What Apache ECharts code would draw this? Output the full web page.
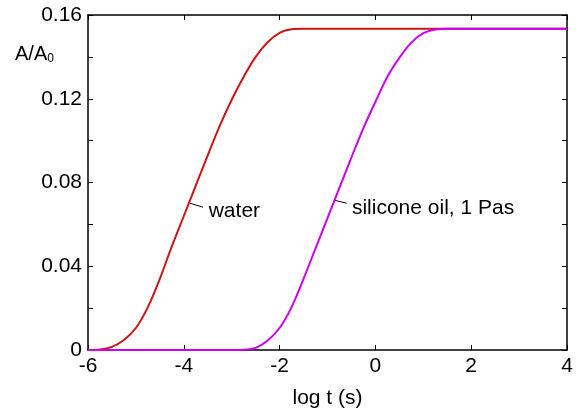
<!DOCTYPE html>
<html>
<head>
<meta charset="utf-8">
<script src="https://cdn.jsdelivr.net/npm/echarts@6/dist/echarts.min.js"></script>
<style>
  html, body { margin: 0; padding: 0; background: #fff; }
  #chart { width: 584px; height: 414px; }
</style>
</head>
<body>
<div id="chart"></div>
<script>
// values
var waterX = [-6, -5.75, -5.5, -5.25, -5, -4.75, -4.5, -4.25, -4, -3.75, -3.5, -3.25, -3, -2.75, -2.5, -2.25, -2, -1.75, -1.5, 4];
var waterY = [0, 0.0002, 0.0015, 0.0048, 0.0105, 0.0205, 0.034, 0.0495, 0.064, 0.0785, 0.093, 0.107, 0.1195, 0.1305, 0.14, 0.147, 0.1515, 0.1532, 0.1534, 0.1534];
var oilX = [-6, -3, -2.75, -2.5, -2.25, -2, -1.75, -1.5, -1.25, -1, -0.75, -0.5, -0.25, 0, 0.25, 0.5, 0.75, 1, 1.25, 1.5, 4];
var oilY = [0, 0, 0.0001, 0.001, 0.0045, 0.0105, 0.0205, 0.034, 0.0485, 0.063, 0.0775, 0.092, 0.106, 0.1185, 0.1305, 0.1395, 0.1468, 0.1513, 0.1531, 0.1534, 0.1534];
var xTicks = [-6, -4, -2, 0, 2, 4];
var yTicks = [0, 0.04, 0.08, 0.12, 0.16];

function pairs(xs, ys) {
  var out = [];
  for (var i = 0; i < xs.length; i++) out.push([xs[i], ys[i]]);
  return out;
}

var font = 'Liberation Sans, Arial, sans-serif';
var chart = echarts.init(document.getElementById('chart'));

var axisLine = { onZero: false, lineStyle: { color: '#000', width: 1.5 } };
var axisTick = { inside: true, length: 5, lineStyle: { color: '#000', width: 1 } };

var option = {
  backgroundColor: '#ffffff',
  animation: false,
  grid: { left: 88, top: 15, right: 17, bottom: 59 },
  xAxis: [{
    type: 'value', min: -6, max: 4, interval: 2,
    position: 'bottom',
    name: 'log t (s)', nameLocation: 'middle', nameGap: 38,
    nameTextStyle: { fontFamily: font, fontSize: 21, color: '#000' },
    axisLine: axisLine, axisTick: axisTick, splitLine: { show: false },
    axisLabel: {
      margin: 6, fontFamily: font, fontSize: 21, color: '#000',
      formatter: function (v) { return xTicks.indexOf(v) >= 0 ? String(v) : ''; }
    }
  }, {
    type: 'value', min: -6, max: 4, interval: 2,
    position: 'top',
    axisLine: axisLine, axisTick: axisTick, splitLine: { show: false },
    axisLabel: { show: false }
  }],
  yAxis: [{
    type: 'value', min: 0, max: 0.16, interval: 0.02,
    position: 'left',
    axisLine: axisLine, axisTick: axisTick, splitLine: { show: false },
    axisLabel: {
      margin: 6, fontFamily: font, fontSize: 21, color: '#000',
      formatter: function (v) {
        for (var i = 0; i < yTicks.length; i++) {
          if (Math.abs(yTicks[i] - v) < 1e-6) return v === 0 ? '0' : v.toFixed(2);
        }
        return '';
      }
    }
  }, {
    type: 'value', min: 0, max: 0.16, interval: 0.02,
    position: 'right',
    axisLine: axisLine, axisTick: axisTick, splitLine: { show: false },
    axisLabel: { show: false }
  }],
  graphic: [{
    type: 'text', left: 15, top: 44,
    style: {
      text: '{a|A/A}{s|0}',
      rich: {
        a: { fontFamily: font, fontSize: 20, fill: '#000' },
        s: { fontFamily: font, fontSize: 12, fill: '#000', padding: [10, 0, 0, 0] }
      }
    }
  }],
  series: [{
    name: 'water', type: 'line',
    data: pairs(waterX, waterY),
    showSymbol: false, smooth: 0.3,
    lineStyle: { color: '#cc1515', width: 2 },
    itemStyle: { color: '#cc1515' },
    z: 2,
    markLine: {
      silent: true, symbol: 'none',
      lineStyle: { color: '#000', width: 1, type: 'solid' },
      label: { show: false },
      data: [[{ coord: [-3.87, 0.0701] }, { coord: [-3.60, 0.0682] }]]
    },
    markPoint: {
      symbol: 'circle', symbolSize: 0,
      label: { show: true, position: 'right', distance: 0, fontFamily: font, fontSize: 21, color: '#000', formatter: 'water' },
      data: [{ coord: [-3.48, 0.0663] }]
    }
  }, {
    name: 'silicone oil, 1 Pas', type: 'line',
    data: pairs(oilX, oilY),
    showSymbol: false, smooth: 0.3,
    lineStyle: { color: '#cc00ee', width: 2 },
    itemStyle: { color: '#cc00ee' },
    z: 3,
    markLine: {
      silent: true, symbol: 'none',
      lineStyle: { color: '#000', width: 1, type: 'solid' },
      label: { show: false },
      data: [[{ coord: [-0.85, 0.0715] }, { coord: [-0.60, 0.0701] }]]
    },
    markPoint: {
      symbol: 'circle', symbolSize: 0,
      label: { show: true, position: 'right', distance: 0, fontFamily: font, fontSize: 21, color: '#000', formatter: 'silicone oil, 1 Pas' },
      data: [{ coord: [-0.49, 0.0675] }]
    }
  }]
};

chart.setOption(option);
</script>
</body>
</html>
